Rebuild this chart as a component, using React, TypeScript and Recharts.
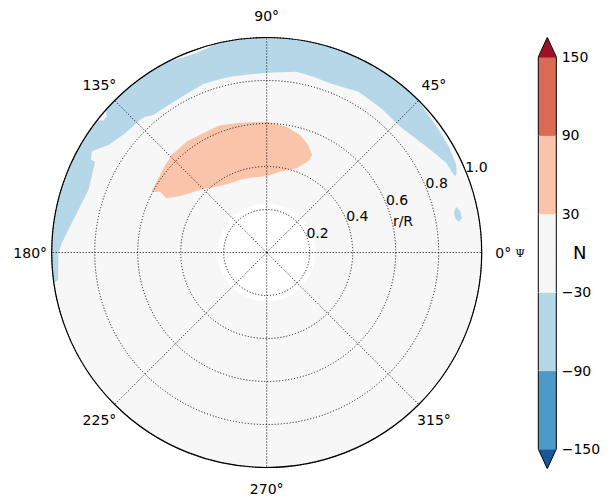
import { RadarChart, Radar, PolarGrid, PolarAngleAxis, PolarRadiusAxis, BarChart, Bar, XAxis, YAxis } from "recharts";

const W = 611;
const H = 500;
const CX = 266.7;
const CY = 252.5;
const R = 215;

// contour outlines: [theta in degrees, r/R]
const blueOuter: [number, number][] = [
  [22.0, 0.945], [22.7, 0.958], [25, 0.972], [30, 0.98], [35, 0.983], [40, 0.987], [44, 0.995],
  [47, 1], [52, 1], [57, 1], [62, 1], [67, 1], [72, 1], [77, 1], [82, 1], [87, 1], [92, 1], [97, 1],
  [102, 1], [104, 1], [106, 0.99], [110, 0.984], [113, 0.986], [116, 0.995], [118, 1], [123, 1],
  [128, 1], [133, 1], [138.5, 1], [139.5, 0.977], [141, 0.976], [142, 1], [147, 1], [152, 1],
  [157, 1], [162, 1], [167, 1], [172, 1], [177, 1], [182, 1], [186, 1], [188, 1],
];
const blueInner: [number, number][] = [
  [187.9, 0.994], [187.5, 0.978], [184.8, 0.973], [180.2, 0.969], [177.4, 0.954], [173.5, 0.929],
  [167.3, 0.898], [160.7, 0.879], [156.6, 0.887], [152.1, 0.903], [152.2, 0.924], [150.1, 0.939],
  [149.2, 0.93], [145.8, 0.889], [139.9, 0.861], [133.7, 0.853], [131.9, 0.848], [129.5, 0.829],
  [123.0, 0.824], [115.5, 0.828], [110.6, 0.837], [106.1, 0.835], [101.8, 0.835], [94.3, 0.832],
  [90.0, 0.836], [80.6, 0.852], [75.2, 0.846], [69.5, 0.84], [60.3, 0.861], [55.9, 0.857],
  [50.8, 0.856], [43.3, 0.853], [38.3, 0.869], [33.5, 0.892], [29.8, 0.912], [26.4, 0.934],
  [23.6, 0.939],
];
const salmonUpper: [number, number][] = [
  [65.0, 0.5], [68.9, 0.536], [74.2, 0.568], [81.0, 0.592], [90.0, 0.609], [101.6, 0.616],
  [110.1, 0.63], [116.4, 0.628], [125.8, 0.636], [134.3, 0.633], [139.6, 0.622], [145.0, 0.612],
  [148.9, 0.607], [151.5, 0.607],
];
const salmonLower: [number, number][] = [
  [151.8, 0.596], [150.3, 0.571], [151.5, 0.53], [146.9, 0.481], [136.9, 0.425], [122.0, 0.37],
  [110.0, 0.36], [100.0, 0.355], [90.0, 0.355], [80.7, 0.38], [70.4, 0.416], [65.2, 0.472],
];
const blueSpot: [number, number][] = [
  [13.5, 0.906], [12.1, 0.92], [10.0, 0.922], [9.0, 0.906], [10.1, 0.892], [12.2, 0.891],
];
const dataEdge = 1.0; // contoured field reaches the rim
const emptyCore = 0.228; // no data inside this radius

const ringAngles = Array.from({ length: 72 }, (_, i) => i * 5);
const thetaTicks = [0, 45, 90, 135, 180, 225, 270, 315];
const rTicks = [0, 0.2, 0.4, 0.6, 0.8, 1.0];

// colorbar
const levels = [-150, -90, -30, 30, 90, 150];
const bandColors = ["#4e9ac7", "#b6d7e8", "#f7f7f7", "#f9c4a9", "#da6a54"];
const underColor = "#195797";
const overColor = "#9c1128";
const extend = 15;

const toRows = (pts: [number, number][]) => pts.map(([theta, r]) => ({ theta, r }));

function PolarLayer({ rows, fill }: { rows: { theta: number; r: number }[]; fill: string }) {
  return (
    <div style={{ position: "absolute", left: 0, top: 0 }}>
      <RadarChart width={W} height={H} data={rows} cx={CX} cy={CY} outerRadius={R} startAngle={0} endAngle={360}
        margin={{ top: 0, right: 0, bottom: 0, left: 0 }}>
        <PolarAngleAxis dataKey="theta" type="number" domain={[0, 360]} tick={false} tickLine={false} axisLine={false} />
        <PolarRadiusAxis domain={[0, 1]} tick={false} tickLine={false} axisLine={false} />
        <Radar dataKey="r" fill={fill} fillOpacity={1} stroke="none" dot={false} activeDot={false} isAnimationActive={false} />
      </RadarChart>
    </div>
  );
}

const ThetaTick = (props: any) => {
  const { x, y, payload } = props;
  return (
    <g>
      <text x={x} y={y} textAnchor="middle" dominantBaseline="central" fontSize={14} fill="#000">{`${payload.value}°`}</text>
      {payload.value === 0 && (
        <text x={x + 17} y={y + 1} textAnchor="middle" dominantBaseline="central" fontSize={11} fill="#000" fontFamily="DejaVu Serif">Ψ</text>
      )}
    </g>
  );
};

const RTick = (props: any) => {
  const { x, y, payload } = props;
  if (payload.value === 0) return <g />;
  return <text x={x} y={y + 1.5} textAnchor="start" fontSize={14} fill="#000">{Number(payload.value).toFixed(1)}</text>;
};

const rLabel = () => (
  <text x={CX + 136.3} y={CY - 27} textAnchor="middle" fontSize={14} fill="#000">r/R</text>
);

const fmtLevel = (v: number) => (v < 0 ? `\u2212${-v}` : `${v}`);

const SideRect = (p: any) => (
  <g>
    <rect x={p.x} y={p.y} width={p.width} height={p.height + 0.5} fill={p.fill} />
    <line x1={p.x} y1={p.y} x2={p.x} y2={p.y + p.height} stroke="#000" strokeWidth={1} />
    <line x1={p.x + p.width} y1={p.y} x2={p.x + p.width} y2={p.y + p.height} stroke="#000" strokeWidth={1} />
  </g>
);

const UpTri = (p: any) => (
  <g>
    <path d={`M${p.x},${p.y + p.height + 0.5} L${p.x + p.width / 2},${p.y} L${p.x + p.width},${p.y + p.height + 0.5} Z`} fill={p.fill} />
    <path d={`M${p.x},${p.y + p.height} L${p.x + p.width / 2},${p.y} L${p.x + p.width},${p.y + p.height}`} fill="none" stroke="#000" strokeWidth={1} />
  </g>
);

const DownTri = (p: any) => (
  <g>
    <path d={`M${p.x},${p.y} L${p.x + p.width},${p.y} L${p.x + p.width / 2},${p.y + p.height} Z`} fill={p.fill} />
    <path d={`M${p.x},${p.y} L${p.x + p.width / 2},${p.y + p.height} L${p.x + p.width},${p.y}`} fill="none" stroke="#000" strokeWidth={1} />
  </g>
);

export default function App() {
  const bandKeys = bandColors.map((_, i) => `b${i}`);
  const cbRow: Record<string, number | string> = { name: "N", base: levels[0] - extend, under: extend, over: extend };
  bandKeys.forEach((k, i) => { cbRow[k] = levels[i + 1] - levels[i]; });

  return (
    <div style={{ position: "absolute", left: 0, top: 0, width: W, height: H, background: "#fff", fontFamily: "DejaVu Sans" }}>
      <PolarLayer rows={ringAngles.map((theta) => ({ theta, r: dataEdge }))} fill={bandColors[2]} />
      <PolarLayer rows={toRows([...blueOuter, ...blueInner])} fill={bandColors[1]} />
      <PolarLayer rows={toRows(blueSpot)} fill={bandColors[1]} />
      <PolarLayer rows={toRows([...salmonUpper, ...salmonLower])} fill={bandColors[3]} />
      <PolarLayer rows={ringAngles.map((theta) => ({ theta, r: emptyCore }))} fill="#ffffff" />

      <div style={{ position: "absolute", left: 0, top: 0 }}>
        {/* category angle ticks land half a band early, so the ring is turned by one band */}
        <RadarChart width={W} height={H} data={thetaTicks.map((theta) => ({ theta, rim: dataEdge }))} cx={CX} cy={CY} outerRadius={R}
          startAngle={45} endAngle={405} margin={{ top: 0, right: 0, bottom: 0, left: 0 }}>
          <PolarGrid gridType="circle" polarAngles={thetaTicks} polarRadius={rTicks.map((t) => t * R)}
            stroke="#000" strokeWidth={1} strokeDasharray="1 2" />
          <PolarAngleAxis dataKey="theta" axisLineType="circle" axisLine={{ stroke: "#000", strokeWidth: 1.2 }}
            tickLine={false} tickSize={21.5} tick={ThetaTick} />
          <PolarRadiusAxis type="number" angle={22.5} domain={[0, 1]} tickCount={6} allowDecimals
            axisLine={false} tickLine={false} tick={RTick} label={{ content: rLabel }} />
          <Radar dataKey="rim" fill="none" stroke="none" dot={false} activeDot={false} isAnimationActive={false} />
        </RadarChart>
      </div>

      <div style={{ position: "absolute", left: 0, top: 0 }}>
        <BarChart width={W} height={H} data={[cbRow]} margin={{ top: 37.3, right: 8.3, bottom: 31.3, left: 538.3 }}
          barCategoryGap={0} stackOffset="none">
          <XAxis dataKey="name" hide />
          <YAxis orientation="right" domain={[levels[0] - extend, levels[levels.length - 1] + extend]} ticks={levels}
            allowDataOverflow width={46} axisLine={false} tickLine={false} tickSize={3} tickMargin={2}
            tick={{ fontSize: 14, fill: "#000" }} tickFormatter={fmtLevel}
            label={{ value: "N", position: "center", angle: 0, fontSize: 18, fill: "#000" }} />
          <Bar dataKey="base" stackId="cb" fill="none" isAnimationActive={false} />
          <Bar dataKey="under" stackId="cb" fill={underColor} shape={DownTri} isAnimationActive={false} />
          {bandKeys.map((k, i) => (
            <Bar key={k} dataKey={k} stackId="cb" fill={bandColors[i]} shape={SideRect} isAnimationActive={false} />
          ))}
          <Bar dataKey="over" stackId="cb" fill={overColor} shape={UpTri} isAnimationActive={false} />
        </BarChart>
      </div>
    </div>
  );
}
